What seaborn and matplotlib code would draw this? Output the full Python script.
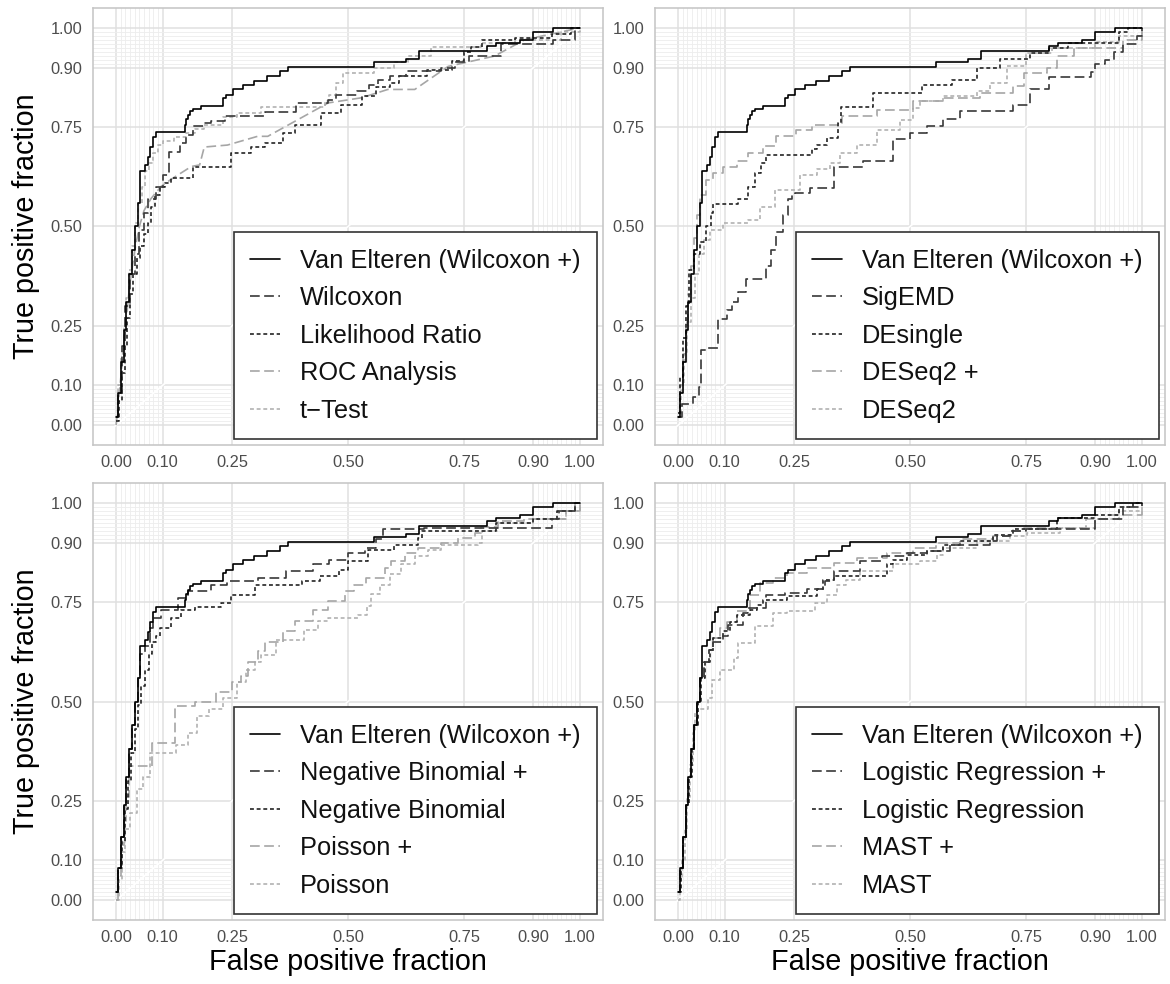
import matplotlib
matplotlib.use("Agg")
import matplotlib.pyplot as plt
import pandas as pd
import seaborn as sns

# ---------------- data ----------------
VE_FPR = [0.000, 0.004, 0.010, 0.016, 0.022, 0.028, 0.034, 0.040, 0.046, 0.052, 0.062, 0.068, 0.074, 0.080, 0.086, 0.148, 0.151, 0.155, 0.160, 0.165, 0.183, 0.231, 0.237, 0.252, 0.273, 0.297, 0.326, 0.353, 0.370, 0.557, 0.626, 0.654, 0.800, 0.820, 0.870, 0.900, 0.943, 1.000]
VE_TPR = [0.02, 0.08, 0.16, 0.24, 0.31, 0.38, 0.44, 0.50, 0.56, 0.64, 0.655, 0.675, 0.70, 0.725, 0.737, 0.755, 0.77, 0.78, 0.79, 0.796, 0.804, 0.823, 0.832, 0.845, 0.855, 0.866, 0.878, 0.891, 0.902, 0.913, 0.922, 0.941, 0.954, 0.962, 0.970, 0.99, 1.0, 1.0]

# panel 1
WIL_FPR = [0.000, 0.005, 0.012, 0.020, 0.030, 0.040, 0.050, 0.060, 0.068, 0.085, 0.100, 0.113, 0.137, 0.150, 0.165, 0.190, 0.205, 0.234, 0.320, 0.388, 0.457, 0.475, 0.520, 0.545, 0.565, 0.590, 0.625, 0.700, 0.730, 0.760, 0.830, 0.943, 0.990, 1.000]
WIL_TPR = [0.02, 0.08, 0.20, 0.30, 0.38, 0.43, 0.49, 0.535, 0.57, 0.60, 0.63, 0.687, 0.71, 0.73, 0.752, 0.76, 0.765, 0.777, 0.787, 0.811, 0.819, 0.832, 0.842, 0.857, 0.870, 0.880, 0.891, 0.900, 0.915, 0.93, 0.96, 0.97, 1.0, 1.0]
LRT_FPR = [0.000, 0.006, 0.012, 0.018, 0.024, 0.030, 0.036, 0.044, 0.052, 0.060, 0.068, 0.076, 0.084, 0.095, 0.105, 0.119, 0.165, 0.248, 0.290, 0.320, 0.360, 0.385, 0.442, 0.485, 0.530, 0.560, 0.590, 0.610, 0.670, 0.725, 0.750, 0.765, 0.790, 0.860, 0.940, 0.980, 1.000]
LRT_TPR = [0.01, 0.06, 0.13, 0.20, 0.27, 0.33, 0.38, 0.42, 0.45, 0.48, 0.51, 0.55, 0.58, 0.60, 0.61, 0.622, 0.651, 0.685, 0.70, 0.71, 0.735, 0.756, 0.786, 0.807, 0.828, 0.85, 0.86, 0.878, 0.895, 0.916, 0.94, 0.952, 0.97, 0.975, 0.985, 1.0, 1.0]
ROC_FPR = [0.000, 0.010, 0.020, 0.030, 0.040, 0.050, 0.060, 0.075, 0.097, 0.120, 0.162, 0.180, 0.190, 0.240, 0.305, 0.327, 0.457, 0.529, 0.586, 0.644, 0.716, 0.816, 0.881, 1.000]
ROC_TPR = [0.00, 0.12, 0.25, 0.36, 0.44, 0.50, 0.54, 0.57, 0.601, 0.62, 0.651, 0.655, 0.70, 0.705, 0.727, 0.727, 0.811, 0.824, 0.845, 0.845, 0.903, 0.929, 0.97, 1.0]
TT_FPR = [0.000, 0.004, 0.010, 0.016, 0.022, 0.028, 0.034, 0.040, 0.048, 0.056, 0.062, 0.070, 0.080, 0.090, 0.100, 0.125, 0.150, 0.170, 0.190, 0.230, 0.260, 0.313, 0.450, 0.460, 0.475, 0.490, 0.557, 0.600, 0.630, 0.680, 0.787, 0.860, 0.960, 1.000]
TT_TPR = [0.02, 0.10, 0.17, 0.25, 0.32, 0.39, 0.45, 0.51, 0.56, 0.60, 0.64, 0.66, 0.685, 0.705, 0.715, 0.725, 0.735, 0.745, 0.755, 0.775, 0.785, 0.80, 0.815, 0.83, 0.86, 0.887, 0.90, 0.915, 0.93, 0.952, 0.962, 0.97, 0.99, 1.0]

# panel 2
SIG_FPR = [0.000, 0.008, 0.032, 0.045, 0.050, 0.059, 0.085, 0.105, 0.115, 0.130, 0.146, 0.190, 0.200, 0.212, 0.225, 0.237, 0.245, 0.252, 0.284, 0.335, 0.398, 0.464, 0.500, 0.536, 0.572, 0.608, 0.723, 0.759, 0.800, 0.890, 0.900, 0.920, 0.940, 0.960, 0.990, 1.000]
SIG_TPR = [0.02, 0.053, 0.07, 0.095, 0.19, 0.195, 0.267, 0.29, 0.31, 0.334, 0.369, 0.40, 0.44, 0.485, 0.53, 0.568, 0.58, 0.584, 0.597, 0.649, 0.664, 0.72, 0.735, 0.754, 0.77, 0.79, 0.807, 0.845, 0.876, 0.89, 0.91, 0.92, 0.94, 0.96, 0.98, 1.0]
DES_FPR = [0.000, 0.004, 0.010, 0.016, 0.024, 0.035, 0.047, 0.060, 0.070, 0.076, 0.130, 0.150, 0.165, 0.178, 0.190, 0.288, 0.300, 0.322, 0.345, 0.352, 0.420, 0.525, 0.590, 0.644, 0.694, 0.759, 0.800, 0.840, 0.950, 0.970, 1.000]
DES_TPR = [0.03, 0.12, 0.22, 0.30, 0.39, 0.43, 0.46, 0.50, 0.535, 0.556, 0.57, 0.60, 0.635, 0.66, 0.68, 0.695, 0.705, 0.722, 0.76, 0.80, 0.836, 0.855, 0.87, 0.90, 0.922, 0.937, 0.95, 0.962, 0.99, 1.0, 1.0]
DP_FPR = [0.000, 0.004, 0.010, 0.016, 0.022, 0.028, 0.034, 0.040, 0.047, 0.060, 0.075, 0.097, 0.126, 0.150, 0.184, 0.212, 0.255, 0.288, 0.353, 0.428, 0.507, 0.572, 0.652, 0.723, 0.745, 0.795, 0.816, 0.853, 0.960, 1.000]
DP_TPR = [0.03, 0.10, 0.18, 0.26, 0.33, 0.40, 0.47, 0.53, 0.58, 0.617, 0.635, 0.651, 0.665, 0.685, 0.702, 0.727, 0.744, 0.756, 0.777, 0.794, 0.815, 0.824, 0.836, 0.853, 0.887, 0.90, 0.929, 0.95, 0.97, 1.0]
D2_FPR = [0.000, 0.005, 0.012, 0.020, 0.028, 0.036, 0.045, 0.055, 0.068, 0.097, 0.150, 0.176, 0.209, 0.263, 0.300, 0.327, 0.349, 0.385, 0.428, 0.478, 0.507, 0.522, 0.572, 0.644, 0.673, 0.709, 0.750, 0.807, 0.900, 0.950, 1.000]
D2_TPR = [0.02, 0.10, 0.18, 0.26, 0.32, 0.38, 0.43, 0.465, 0.49, 0.508, 0.517, 0.55, 0.592, 0.63, 0.645, 0.66, 0.685, 0.706, 0.744, 0.769, 0.798, 0.815, 0.828, 0.84, 0.861, 0.903, 0.937, 0.95, 0.965, 0.98, 1.0]

# panel 3
NBP_FPR = [0.000, 0.004, 0.010, 0.016, 0.022, 0.028, 0.034, 0.040, 0.046, 0.052, 0.062, 0.072, 0.080, 0.097, 0.133, 0.155, 0.205, 0.240, 0.305, 0.367, 0.425, 0.460, 0.500, 0.536, 0.560, 0.575, 0.665, 0.940, 0.955, 0.990, 1.000]
NBP_TPR = [0.02, 0.08, 0.16, 0.24, 0.31, 0.38, 0.44, 0.50, 0.56, 0.62, 0.64, 0.685, 0.71, 0.731, 0.76, 0.777, 0.794, 0.803, 0.811, 0.828, 0.845, 0.857, 0.874, 0.887, 0.91, 0.933, 0.937, 0.96, 0.98, 1.0, 1.0]
NB_FPR = [0.000, 0.005, 0.012, 0.019, 0.026, 0.033, 0.040, 0.047, 0.054, 0.062, 0.070, 0.078, 0.086, 0.095, 0.118, 0.140, 0.170, 0.227, 0.248, 0.300, 0.400, 0.440, 0.480, 0.500, 0.543, 0.600, 0.650, 0.660, 0.820, 0.900, 0.950, 0.990, 1.000]
NB_TPR = [0.02, 0.08, 0.15, 0.23, 0.30, 0.37, 0.43, 0.49, 0.54, 0.58, 0.62, 0.651, 0.665, 0.685, 0.71, 0.73, 0.737, 0.748, 0.769, 0.794, 0.803, 0.815, 0.832, 0.853, 0.882, 0.895, 0.912, 0.93, 0.95, 0.96, 0.98, 1.0, 1.0]
PP_FPR = [0.000, 0.004, 0.010, 0.016, 0.022, 0.028, 0.077, 0.126, 0.171, 0.216, 0.250, 0.270, 0.284, 0.305, 0.320, 0.360, 0.385, 0.424, 0.457, 0.493, 0.514, 0.539, 0.579, 0.593, 0.622, 0.651, 0.700, 0.737, 0.773, 0.787, 0.823, 0.880, 0.970, 1.000]
PP_TPR = [0.00, 0.06, 0.14, 0.20, 0.26, 0.337, 0.396, 0.488, 0.50, 0.525, 0.55, 0.563, 0.60, 0.626, 0.651, 0.677, 0.702, 0.731, 0.752, 0.777, 0.794, 0.81, 0.836, 0.853, 0.874, 0.887, 0.90, 0.912, 0.924, 0.94, 0.954, 0.96, 0.98, 1.0]
PO_FPR = [0.000, 0.006, 0.012, 0.020, 0.030, 0.045, 0.058, 0.073, 0.130, 0.155, 0.175, 0.200, 0.230, 0.260, 0.280, 0.300, 0.313, 0.345, 0.406, 0.435, 0.457, 0.521, 0.540, 0.550, 0.568, 0.590, 0.615, 0.644, 0.672, 0.700, 0.780, 0.790, 0.823, 0.900, 0.970, 1.000]
PO_TPR = [0.00, 0.05, 0.12, 0.18, 0.22, 0.28, 0.31, 0.37, 0.39, 0.42, 0.463, 0.48, 0.508, 0.55, 0.58, 0.60, 0.618, 0.655, 0.68, 0.702, 0.71, 0.718, 0.74, 0.77, 0.794, 0.82, 0.845, 0.866, 0.882, 0.895, 0.90, 0.929, 0.95, 0.96, 0.98, 1.0]

# panel 4
LRP_FPR = [0.000, 0.004, 0.010, 0.016, 0.022, 0.028, 0.034, 0.040, 0.048, 0.056, 0.066, 0.076, 0.097, 0.108, 0.140, 0.151, 0.190, 0.230, 0.277, 0.317, 0.335, 0.392, 0.439, 0.493, 0.536, 0.586, 0.673, 0.687, 0.716, 0.750, 0.900, 0.960, 1.000]
LRP_TPR = [0.02, 0.08, 0.16, 0.24, 0.31, 0.38, 0.44, 0.50, 0.56, 0.60, 0.63, 0.651, 0.665, 0.693, 0.723, 0.735, 0.769, 0.773, 0.782, 0.803, 0.828, 0.853, 0.866, 0.874, 0.88, 0.895, 0.903, 0.916, 0.93, 0.935, 0.96, 0.99, 1.0]
LRG_FPR = [0.000, 0.005, 0.011, 0.017, 0.023, 0.029, 0.035, 0.042, 0.050, 0.058, 0.068, 0.076, 0.097, 0.112, 0.126, 0.155, 0.169, 0.183, 0.234, 0.300, 0.313, 0.335, 0.450, 0.464, 0.493, 0.536, 0.572, 0.608, 0.680, 0.723, 0.817, 0.900, 0.950, 0.980, 1.000]
LRG_TPR = [0.02, 0.08, 0.16, 0.24, 0.31, 0.38, 0.44, 0.50, 0.56, 0.60, 0.63, 0.66, 0.677, 0.70, 0.718, 0.73, 0.744, 0.756, 0.765, 0.782, 0.807, 0.815, 0.845, 0.857, 0.87, 0.88, 0.895, 0.903, 0.92, 0.933, 0.962, 0.97, 0.99, 1.0, 1.0]
MSP_FPR = [0.000, 0.004, 0.010, 0.016, 0.022, 0.028, 0.034, 0.040, 0.048, 0.056, 0.066, 0.076, 0.090, 0.105, 0.126, 0.155, 0.176, 0.205, 0.234, 0.277, 0.335, 0.385, 0.450, 0.507, 0.557, 0.608, 0.680, 0.716, 0.745, 0.880, 0.930, 1.000]
MSP_TPR = [0.02, 0.08, 0.16, 0.24, 0.31, 0.38, 0.44, 0.50, 0.56, 0.60, 0.63, 0.66, 0.685, 0.70, 0.727, 0.769, 0.798, 0.81, 0.824, 0.836, 0.849, 0.861, 0.874, 0.887, 0.90, 0.908, 0.916, 0.929, 0.937, 0.96, 0.97, 1.0]
MST_FPR = [0.000, 0.004, 0.008, 0.014, 0.020, 0.026, 0.032, 0.036, 0.040, 0.065, 0.073, 0.090, 0.120, 0.130, 0.165, 0.205, 0.234, 0.295, 0.320, 0.342, 0.363, 0.392, 0.464, 0.522, 0.558, 0.572, 0.644, 0.716, 0.752, 0.824, 0.900, 0.950, 1.000]
MST_TPR = [0.00, 0.05, 0.10, 0.18, 0.26, 0.34, 0.42, 0.47, 0.48, 0.51, 0.555, 0.58, 0.61, 0.648, 0.69, 0.723, 0.727, 0.748, 0.769, 0.794, 0.807, 0.828, 0.845, 0.853, 0.87, 0.887, 0.903, 0.916, 0.924, 0.937, 0.96, 0.98, 1.0]

VE_LABEL = "Van Elteren (Wilcoxon +)"
P1_LABELS = [VE_LABEL, "Wilcoxon", "Likelihood Ratio", "ROC Analysis", "t\u2212Test"]
P2_LABELS = [VE_LABEL, "SigEMD", "DEsingle", "DESeq2 +", "DESeq2"]
P3_LABELS = [VE_LABEL, "Negative Binomial +", "Negative Binomial", "Poisson +", "Poisson"]
P4_LABELS = [VE_LABEL, "Logistic Regression +", "Logistic Regression", "MAST +", "MAST"]

MAJOR_TICKS = [0.0, 0.10, 0.25, 0.50, 0.75, 0.90, 1.0]
TICK_LABELS = ["0.00", "0.10", "0.25", "0.50", "0.75", "0.90", "1.00"]
MINOR_TICKS = [i / 100 for i in range(1, 10)] + [i / 100 for i in range(91, 100)]

# ---------------- styling ----------------
sns.set_style("white")
plt.rcParams["font.family"] = ["Liberation Sans", "DejaVu Sans"]
plt.rcParams["lines.scale_dashes"] = False

LONG = (0, (7.0, 3.2))
SHORT = (0, (2.8, 2.0))
STYLES = [
    ("#000000", "-"),
    ("#383838", LONG),
    ("#242424", SHORT),
    ("#a6a6a6", LONG),
    ("#b2b2b2", SHORT),
]

panels = [
    (P1_LABELS, [(VE_FPR, VE_TPR, "steps-post"), (WIL_FPR, WIL_TPR, "steps-post"),
                 (LRT_FPR, LRT_TPR, "steps-post"), (ROC_FPR, ROC_TPR, "default"),
                 (TT_FPR, TT_TPR, "steps-post")]),
    (P2_LABELS, [(VE_FPR, VE_TPR, "steps-post"), (SIG_FPR, SIG_TPR, "steps-post"),
                 (DES_FPR, DES_TPR, "steps-post"), (DP_FPR, DP_TPR, "steps-post"),
                 (D2_FPR, D2_TPR, "steps-post")]),
    (P3_LABELS, [(VE_FPR, VE_TPR, "steps-post"), (NBP_FPR, NBP_TPR, "steps-post"),
                 (NB_FPR, NB_TPR, "steps-post"), (PP_FPR, PP_TPR, "steps-post"),
                 (PO_FPR, PO_TPR, "steps-post")]),
    (P4_LABELS, [(VE_FPR, VE_TPR, "steps-post"), (LRP_FPR, LRP_TPR, "steps-post"),
                 (LRG_FPR, LRG_TPR, "steps-post"), (MSP_FPR, MSP_TPR, "steps-post"),
                 (MST_FPR, MST_TPR, "steps-post")]),
]

W, H = 1170, 984
fig = plt.figure(figsize=(W / 100, H / 100), dpi=100)
fig.patch.set_facecolor("white")

ax_w, ax_h = 510 / W, 437 / H
lefts = [93 / W, 655 / W]
bottoms = [1 - 445 / H, 1 - 920 / H]
rects = [(lefts[0], bottoms[0]), (lefts[1], bottoms[0]), (lefts[0], bottoms[1]), (lefts[1], bottoms[1])]

for idx, ((labels, curves), (l, b)) in enumerate(zip(panels, rects)):
    ax = fig.add_axes([l, b, ax_w, ax_h])
    ax.set_facecolor("white")
    ax.set_xlim(-0.05, 1.05)
    ax.set_ylim(-0.05, 1.05)
    ax.set_xticks(MAJOR_TICKS)
    ax.set_xticklabels(TICK_LABELS)
    ax.set_yticks(MAJOR_TICKS)
    ax.set_yticklabels(TICK_LABELS)
    ax.set_xticks(MINOR_TICKS, minor=True)
    ax.set_yticks(MINOR_TICKS, minor=True)
    ax.grid(which="minor", color="#ededed", linewidth=0.6)
    ax.grid(which="major", color="#e0e0e0", linewidth=1.1)
    ax.set_axisbelow(True)
    ax.tick_params(which="minor", length=0)
    ax.tick_params(which="major", length=4.5, width=0.9, color="#bdbdbd",
                   labelsize=11.8, labelcolor="#4d4d4d", pad=3.0)
    for sp in ax.spines.values():
        sp.set_color("#c4c4c4")
        sp.set_linewidth(1.1)
    ax.axline((0, 0), slope=1, color="white", linewidth=1.2, zorder=1.5)

    for k, ((fx, fy, ds), name, (col, ls)) in enumerate(zip(curves, labels, STYLES)):
        df = pd.DataFrame({"fpr": fx, "tpr": fy})
        sns.lineplot(data=df, x="fpr", y="tpr", ax=ax, sort=False, estimator=None,
                     color=col, linestyle=ls, linewidth=1.2, drawstyle=ds,
                     label=name, zorder=10 - k if k else 12)

    handles, labs = ax.get_legend_handles_labels()
    leg = ax.legend(handles, labs, loc="lower right", fontsize=18.3, frameon=True,
                    fancybox=False, edgecolor="#333333", framealpha=1,
                    handlelength=1.15, handletextpad=0.8, labelspacing=0.53,
                    borderpad=0.66, borderaxespad=0.22)
    leg.get_frame().set_linewidth(1.2)
    for t in leg.get_texts():
        t.set_color("#111111")
    leg.set_zorder(20)

    ax.set_xlabel("")
    ax.set_ylabel("")
    if idx % 2 == 0:
        ax.set_ylabel("True positive fraction", fontsize=20.7, color="black")
        ax.yaxis.set_label_coords(-0.104, 0.5)
    if idx >= 2:
        ax.set_xlabel("False positive fraction", fontsize=20.7, color="black")
        ax.xaxis.set_label_coords(0.5, -0.064)

fig.savefig("out.png", dpi=100, facecolor="white")
